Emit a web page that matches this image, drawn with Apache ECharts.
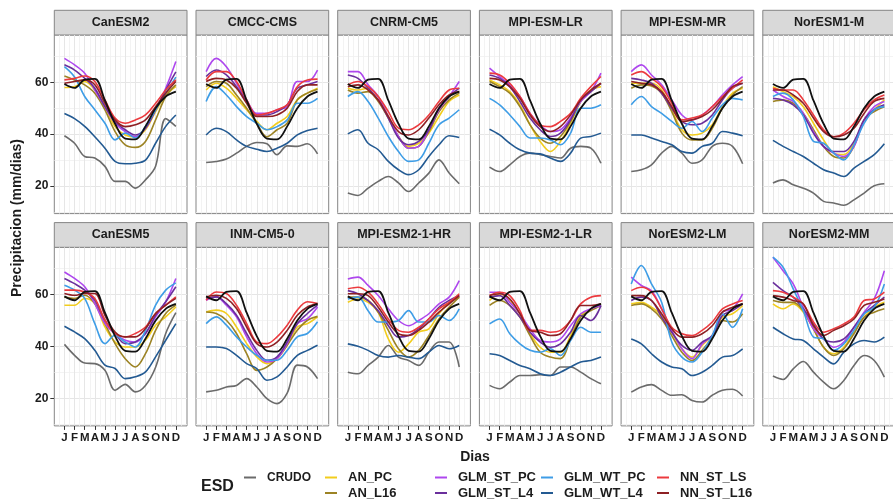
<!DOCTYPE html>
<html><head><meta charset="utf-8">
<script src="https://cdn.jsdelivr.net/npm/echarts@6/dist/echarts.min.js"></script>
<style>html,body{margin:0;padding:0;background:#fff}#c{width:893px;height:501px}</style>
</head><body><div id="c"></div>
<script>
// ---------- data ----------
const months = [1,2,3,4,5,6,7,8,9,10,11,12];
const monthLabels = ['J','F','M','A','M','J','J','A','S','O','N','D'];
const xMinorValues = [0.5,1.5,2.5,3.5,4.5,5.5,6.5,7.5,8.5,9.5,10.5,11.5,12.5];
const yTickValues = [20,40,60];
const yMinorValues = [10,30,50,70];
const models = ['CanESM2','CMCC-CMS','CNRM-CM5','MPI-ESM-LR','MPI-ESM-MR','NorESM1-M',
                'CanESM5','INM-CM5-0','MPI-ESM2-1-HR','MPI-ESM2-1-LR','NorESM2-LM','NorESM2-MM'];
const methods = ['CRUDO','AN_PC','AN_L16','GLM_ST_PC','GLM_ST_L4','GLM_WT_PC','GLM_WT_L4','NN_ST_LS','NN_ST_L16'];
// observed reference (black line, identical in every panel)
const obs = [59.3,57.8,61,61.3,53,44,38.3,38,43,50,54.5,56.4];

// rows follow the order of `methods`
const d_CanESM2 = [
  [39.4,36.5,31.4,30.8,27.6,21.8,21.8,19.2,22.4,27.6,46,43],
  [58,58.3,60.3,57,50.6,42.9,39.7,39,41.7,48.7,55,58.3],
  [62.4,60.9,59,55.8,49.4,41,35.9,34.9,37.2,45.5,54.5,59],
  [69.2,66.7,63.5,57,50.6,44.2,41,39,42.3,49.4,57.7,68],
  [66.7,64.7,61.5,57.7,50.6,44.9,41.7,39.7,42.3,49.4,57,64],
  [66,62,54.5,49.4,44.2,37.8,40.4,38.5,43,49.4,55.8,62],
  [48,46,43,39,34.6,29.5,28.6,28.8,30,36.5,43,47.4],
  [60.9,61.5,62.4,60.3,53.2,46.2,44.2,45.5,47.4,51.9,57,60.9],
  [59.6,60.3,60.9,59,51.9,45.5,42.9,43.6,45.5,50.6,55.8,60.3]
];
const d_CMCC_CMS = [
  [29.1,29.5,30.4,32.7,35.3,36.8,36.3,32.1,35.5,35.3,36.3,32.4],
  [57,59.6,57.7,53.8,49.4,44.9,41.7,44.2,46.8,53.2,55.8,57.7],
  [58.3,60.3,59.6,55.1,50,44.2,39,41.7,44.2,53.2,55.8,57.3],
  [64.1,69.2,66,59.6,53.2,48,48,49.4,50.6,60.3,60.3,64.7],
  [62.2,64.7,62.8,58.3,52.6,47.4,47.4,48.7,51.3,57.7,59,60.3],
  [52.6,58.3,55.1,50.6,46.8,44.2,41.7,42.9,45.5,51.9,51.9,53.8],
  [39.7,42.3,41,37.8,35.3,34.2,33.3,34.6,36.5,39.7,41.4,42.3],
  [60.9,64.1,64.1,60.3,53.2,47.4,48,49.4,51.3,58.3,60.9,61.2],
  [60.3,61.5,60.9,57.7,51.9,46.8,46.8,47.4,50,56.4,59,59]
];
const d_CNRM_CM5 = [
  [17.3,16.4,19.2,21.8,23.7,21.2,17.9,21.2,25,30.1,25,20.9],
  [57.7,57,57.7,54.5,46.8,39.1,35.3,36.5,40.4,46.8,52.6,55.1],
  [57,55.8,56.4,52.6,46.2,39.1,34.6,35.3,41,48.7,53.2,55.8],
  [64.1,64.1,59,54.5,46.8,39.1,34.6,35.3,41.7,49.4,54.5,60.3],
  [62.8,61.5,57.7,53.2,46.2,38.5,35.9,37.2,41.7,50,54.5,57.7],
  [54.5,56.4,52.6,46.2,39.1,33.3,29.5,30.1,36.5,43.6,46.2,49.4],
  [40.1,41.7,36.5,34,29.5,26.3,24.4,26.3,31.4,35.9,39.4,38.7],
  [59,60.3,58.3,54.5,48.7,42.3,41.7,43.6,47.4,52.6,57,57.7],
  [58.3,59,57,53.2,46.8,41,39.7,41.7,46.2,51.3,55.1,56.4]
];
const d_MPI_ESM_LR = [
  [27.3,25.6,28.2,31.4,32.7,32.1,31.4,30.8,34.6,35.3,34.6,28.8],
  [60.9,59,56.4,51.3,43.6,37.2,33.3,37.2,44.2,52.6,57,58.3],
  [60.3,58.3,55.8,50.6,43.6,38.5,36.5,39.1,44.9,52.6,56.4,59.6],
  [65.4,62.2,59,54.5,48,43.6,41,41.7,46.2,52.6,56.4,63.5],
  [62.8,61.5,58.3,52.6,46.2,41.7,39.1,40.4,45.5,53.2,56.4,59.6],
  [53.8,51.3,47.4,42.9,38.5,38.5,37.8,35.9,40.4,50,50,51.3],
  [41.9,39.7,36.5,34,32.7,32.4,30.8,29.5,32.7,38.5,39.1,40.4],
  [63.5,62.8,59.6,54.5,48,43.6,42.9,44.9,48,53.8,58.3,62.2],
  [61.5,60.9,58.3,53.8,47.4,42.9,41,42.9,47.4,53.2,57,59.6]
];
const d_MPI_ESM_MR = [
  [25.6,26.3,28.2,32.7,35.3,32.7,28.8,30.1,35.3,36.5,35.3,28.6],
  [59.6,59.6,59.6,57,49.4,41.7,39.7,40.4,43.6,50.6,55.8,57.7],
  [57.7,59,58.6,55.8,48.7,40.4,37.8,37.8,42.3,50,55.1,58.3],
  [64.1,66.7,62.8,59,53.2,47.4,45.5,47.4,50.6,55.1,59,62.2],
  [61.5,60.9,59.6,55.8,50,44.9,43.6,44.2,47.4,53.2,57.7,59.6],
  [51.3,54.5,50.6,48,44.9,42.3,44.9,41,46.2,51.3,53.8,53.2],
  [39.7,39.7,38.5,37.2,35.9,33.3,32.7,35.3,36.5,41,40.4,39.4],
  [62.8,64.1,61.5,58.3,51.9,45.5,46.2,47.4,50.6,54.5,57.7,60.9],
  [60.3,59.6,59,56.4,50.6,44.9,45.5,46.8,49.4,53.8,58.3,59.6]
];
const d_NorESM1_M = [
  [21.2,22.4,20.5,19.2,17.3,14.1,13.5,12.6,14.7,17.3,20.1,20.9],
  [58.3,56.4,54.5,50.6,44.2,37.8,32.7,32.1,36.5,45.5,49.4,53.2],
  [52.6,53.2,51.9,48,41.7,35.3,31.4,30.8,35.3,45.5,48.7,50.6],
  [57,54.5,52.6,48,41,35.3,32.7,31.4,35.3,45.5,50.6,52.6],
  [53.8,53.2,51.3,47.4,40.4,35.3,33.3,33.3,37.2,45.5,49.4,51.3],
  [54.5,55.8,53.2,46.8,37.2,36.5,32.7,30.1,35.9,44.2,49.4,50.6],
  [37.6,35.3,33.3,31.4,28.8,26.3,25,23.7,26.9,29.5,32.1,36.3],
  [57.7,57,57,53.2,47.4,41.7,39,40.4,44.2,49.4,53.2,55.1],
  [57,57,55.1,51.9,46.2,41,39,39.7,42.3,48,52.6,53.8]
];
const d_CanESM5 = [
  [40.8,36.6,33.6,33.4,30.8,23.1,25.4,22.5,25,32,45,53],
  [55.9,55.9,58.5,56.5,47.5,41.7,39.8,39.8,42.4,48.2,51.4,55.2],
  [59.1,58.5,59.7,56.5,48.8,41.1,35.3,32.1,37.2,46.2,52.7,55.9],
  [68.7,66.2,63,56.5,48.8,44.9,42.4,41.7,45,51.4,57.2,66.2],
  [66.2,64.2,61.7,57.8,50.1,45,41.1,41.7,45,52,57.2,63],
  [63.6,61.7,58.5,48.8,41.1,44.3,41.7,39.8,46.2,55.9,61.7,64.5],
  [47.8,45.6,43,38.5,32.8,31.5,27.6,28.3,30.2,36,42.4,48.8],
  [61.7,61.7,61,58.5,50.1,45,43.7,45,47.5,52.7,55.9,59.1],
  [60.4,59.7,60.4,60.4,52,45.6,43.7,43.7,46.9,52.7,55.9,58.5]
];
const d_INM_CM5_0 = [
  [22.5,23.1,24.4,25,27.6,24.4,19.9,18,22,32.8,32.1,27.6],
  [53.3,54,52.7,47.5,41.1,36,33.4,35.3,40.5,47.5,48.8,51.4],
  [53.3,52.7,50.1,45,37.2,30.8,32.1,35.3,40.5,46.2,50.1,51.6],
  [57.8,59.1,55.9,51.4,43.7,37.2,34,35.3,41.1,48.8,50.7,55.2],
  [58.5,59.1,56.5,52,45,38.5,34.7,36,41.7,48.8,52.7,55.9],
  [48.8,51.4,48.2,43.7,39.8,36.6,34.7,34.7,38.5,43.7,45,49.5],
  [39.8,39.8,39.2,36.6,33.4,31.5,27,28.3,32.1,36.6,38.5,40.5],
  [57.8,61,60.4,55.9,48.8,41.7,41.1,43.7,48.2,54,57.2,56.5],
  [59.1,59.7,58.5,54.6,47.5,41.1,39.8,41.7,46.2,52,55.2,56.5]
];
const d_MPI_ESM2_1_HR = [
  [30.1,29.5,32.7,35.9,40.4,35.9,34.6,32.7,37.8,41.7,41.7,32.1],
  [57,58.3,57,53.2,42.9,37.8,41,45.5,46.8,52.6,57,59],
  [59,59,57.7,53.2,46.2,39.1,35.9,38.5,44.2,50.6,55.1,59],
  [66,66.7,63.5,59.6,54.5,50,48,50,52.6,56.4,59,65.4],
  [61.5,60.3,57.7,53.8,48,43.6,44.2,46.8,50.6,55.1,57.7,59.6],
  [58.3,59,53.8,49.4,49.4,50,53.8,49.4,49.4,51.9,50,54.5],
  [41,40.1,38.5,36.5,35.9,36.5,35.9,35.3,37.8,40.4,39.1,40.4],
  [62.2,62.8,60.9,56.4,50.6,46.2,45.5,47.4,50.6,54.5,57,60.3],
  [60.3,60.3,59.6,55.1,49.4,44.9,44.2,46.2,49.4,53.2,56.4,59.6]
];
const d_MPI_ESM2_1_LR = [
  [25,23.7,26.3,28.8,28.8,29.1,28.8,32.1,32.1,30.1,27.6,25.6],
  [57.7,60.3,57.7,52.6,44.9,39.7,37.8,37.8,44.2,51.9,54.5,56.4],
  [55.8,57.7,55.8,51.3,44.2,37.8,35.9,35.3,42.9,51.3,53.8,55.8],
  [60.9,60.9,57,52.6,46.8,42.3,41.7,42.9,48,52.6,54.5,55.8],
  [59,59.6,55.8,51.3,45.5,41.7,39.7,41,45.5,51.9,50,55.8],
  [48.7,50.6,44.9,41,38.5,37.8,39.1,36.5,42.3,47.4,45.5,45.5],
  [37.2,36.5,34.6,32.7,31.4,29.5,28.8,30.1,32.1,34,34.6,35.9],
  [59.6,60.9,59.6,53.8,46.2,46.2,45.5,46.2,50,56.4,59,59.6],
  [59.6,60.3,58.3,52.6,46.2,45.5,44.2,44.9,50,55.8,55.8,56.4]
];
const d_NorESM2_LM = [
  [22.4,24.4,25.3,23.1,21.2,21.4,19.2,18.6,21.2,23.1,23.5,20.9],
  [56.4,57,55.1,51.9,45.5,39.1,35.9,40.4,44.2,51.3,52.6,55.8],
  [55.8,56.4,54.5,50.6,44.2,37.8,34.6,38.5,43.6,50,49.4,52.6],
  [66.7,63.5,61.5,54.5,46.2,39.1,35.3,41,44.2,53.2,54.5,60.3],
  [57.7,59,57.7,51.3,45.5,40.4,38.5,41.7,44.2,51.9,53.8,56.4],
  [64.1,71.2,64.1,57,41.7,35.9,34,37.8,44.2,52.6,47.4,54.5],
  [42.9,41,37.2,34,32.1,31.4,28.8,30.1,32.7,35.9,36.5,39.1],
  [61.5,62.8,60.9,54.5,47.4,44.9,44.2,46.2,49.4,54.5,56.4,57.7],
  [59.6,59.6,57.7,52.6,46.8,43.6,43.6,44.9,48,53.2,55.1,56.4]
];
const d_NorESM2_MM = [
  [28.6,27.3,31.4,34.2,30.1,26.3,23.7,26.9,32.7,36.5,34.6,28.2],
  [56.4,54.5,56.4,53.2,46.8,39.7,37.2,39.7,45.5,51.3,55.1,57],
  [57.7,57,57,53.8,46.8,39.7,36.5,39.1,44.9,51.3,53.2,54.5],
  [74.4,69.2,64.1,55.1,46.8,42.9,39.7,41.7,47.4,53.2,58.3,69.2],
  [64.7,61.5,59,54.5,48.7,42.9,41.7,42.9,47.4,52.6,55.8,59],
  [74.4,70.5,62.2,53.8,43.6,42.9,38.5,41,46.2,52.6,55.1,64.1],
  [47.4,44.9,42.9,42.3,39.1,35.9,33.3,37.8,41,42.3,41.7,43.6],
  [61.5,60.9,59,56.4,49.4,45.5,46.8,48.7,51.3,57.7,58.3,60.9],
  [59.6,59,57.7,56.4,48,44.2,46.2,48,50.6,55.8,57,58.3]
];
const modelData = [d_CanESM2,d_CMCC_CMS,d_CNRM_CM5,d_MPI_ESM_LR,d_MPI_ESM_MR,d_NorESM1_M,
                   d_CanESM5,d_INM_CM5_0,d_MPI_ESM2_1_HR,d_MPI_ESM2_1_LR,d_NorESM2_LM,d_NorESM2_MM];

// ---------- style ----------
const colors = ['#6b6b6b','#F2CD1D','#9C8324','#AE47EE','#6A2F9C','#3E9DE6','#235A92','#EC3A3E','#8E2024'];
const obsColor = '#111111';
const FONT = '"Liberation Sans", Arial, Helvetica, sans-serif';
const TXT = '#1c1c1c';
const L0 = 54.3, DX = 141.7, W = 132.7, H = 178.6, TOPS = [35, 247.3], STRIP = 24.7;
const YMIN = 9.4, YMAX = 78.2, XMIN = 0, XMAX = 13.1;

const grid = [], xAxis = [], yAxis = [], series = [], graphic = [];
models.forEach((name, i) => {
  const col = i % 6, row = Math.floor(i / 6);
  const left = L0 + col * DX, top = TOPS[row];
  const bottomRow = row === 1, leftCol = col === 0;
  grid.push({left, top, width: W, height: H, show: true, backgroundColor: '#fff',
             borderColor: '#858585', borderWidth: 1, containLabel: false, outerBoundsMode: 'none'});
  xAxis.push({type: 'value', gridIndex: i, min: XMIN, max: XMAX, position: 'bottom',
    axisLine: {show: false},
    axisTick: {show: bottomRow, customValues: months, length: 4, lineStyle: {color: '#333', width: 1}},
    axisLabel: {show: bottomRow, customValues: months, formatter: v => monthLabels[Math.round(v) - 1],
                margin: 6, color: TXT, fontWeight: 'bold', fontSize: 11.5, fontFamily: FONT},
    splitLine: {show: true, lineStyle: {color: '#E6E6E6', width: 1}}});
  xAxis.push({type: 'value', gridIndex: i, min: XMIN, max: XMAX, position: 'top',
    axisLine: {show: false},
    axisTick: {show: false, customValues: xMinorValues},
    axisLabel: {show: false, customValues: xMinorValues},
    splitLine: {show: true, lineStyle: {color: '#F0F0F0', width: 0.8}}});
  yAxis.push({type: 'value', gridIndex: i, min: YMIN, max: YMAX, position: 'left',
    axisLine: {show: false},
    axisTick: {show: leftCol, customValues: yTickValues, length: 4, lineStyle: {color: '#333', width: 1}},
    axisLabel: {show: leftCol, customValues: yTickValues, margin: 6, color: TXT, fontWeight: 'bold',
                fontSize: 12, fontFamily: FONT},
    splitLine: {show: true, lineStyle: {color: '#E6E6E6', width: 1}}});
  yAxis.push({type: 'value', gridIndex: i, min: YMIN, max: YMAX, position: 'right',
    axisLine: {show: false},
    axisTick: {show: false, customValues: yMinorValues},
    axisLabel: {show: false, customValues: yMinorValues},
    splitLine: {show: true, lineStyle: {color: '#F0F0F0', width: 0.8}}});
  methods.forEach((meth, k) => {
    series.push({type: 'line', name: meth, xAxisIndex: 2 * i, yAxisIndex: 2 * i,
      data: months.map((m, j) => [m, modelData[i][k][j]]),
      symbol: 'none', showSymbol: false, smooth: 0.35, silent: true, z: 2,
      lineStyle: {width: 1.6, color: colors[k]}, itemStyle: {color: colors[k]}});
  });
  series.push({type: 'line', name: 'OBS', xAxisIndex: 2 * i, yAxisIndex: 2 * i,
    data: months.map((m, j) => [m, obs[j]]),
    symbol: 'none', showSymbol: false, smooth: 0.35, silent: true, z: 3,
    lineStyle: {width: 1.8, color: obsColor}, itemStyle: {color: obsColor}});
  graphic.push({type: 'rect', shape: {x: left, y: top - STRIP, width: W, height: STRIP},
    style: {fill: '#D9D9D9', stroke: '#858585', lineWidth: 1}, silent: true});
  graphic.push({type: 'text', x: left + W / 2, y: top - STRIP / 2,
    style: {text: name, font: 'bold 12.5px ' + FONT, fill: TXT, textAlign: 'center', textVerticalAlign: 'middle'},
    silent: true});
});

graphic.push({type: 'text', x: 17, y: 218, rotation: Math.PI / 2,
  style: {text: 'Precipitacion (mm/dias)', font: 'bold 14px ' + FONT, fill: TXT, textAlign: 'center', textVerticalAlign: 'middle'}});
graphic.push({type: 'text', x: 475, y: 457,
  style: {text: 'Dias', font: 'bold 14px ' + FONT, fill: TXT, textAlign: 'center', textVerticalAlign: 'middle'}});
graphic.push({type: 'text', x: 201, y: 487,
  style: {text: 'ESD', font: 'bold 16px ' + FONT, fill: TXT, textAlign: 'left', textVerticalAlign: 'middle'}});

// one legend component per entry, laid out in 5 columns x 2 rows
const legendCol = [0, 1, 1, 2, 2, 3, 3, 4, 4];
const legendRow = [0, 0, 1, 0, 1, 0, 1, 0, 1];
const legendLeft = [244, 325, 435, 541, 657];
const legendTop = [470, 485.5];
const legend = methods.map((meth, k) => ({
  data: [meth], left: legendLeft[legendCol[k]], top: legendTop[legendRow[k]],
  itemWidth: 12, itemHeight: 2, icon: 'rect', selectedMode: false, padding: 0,
  textStyle: {fontFamily: FONT, fontWeight: 'bold', fontSize: k === 0 ? 12 : 13, color: TXT,
              lineHeight: 15, padding: [0, 0, 0, 6]}
}));

const chart = echarts.init(document.getElementById('c'), null, {renderer: 'canvas'});
chart.setOption({animation: false, backgroundColor: '#fff', grid, xAxis, yAxis, series, legend, graphic});
</script></body></html>
